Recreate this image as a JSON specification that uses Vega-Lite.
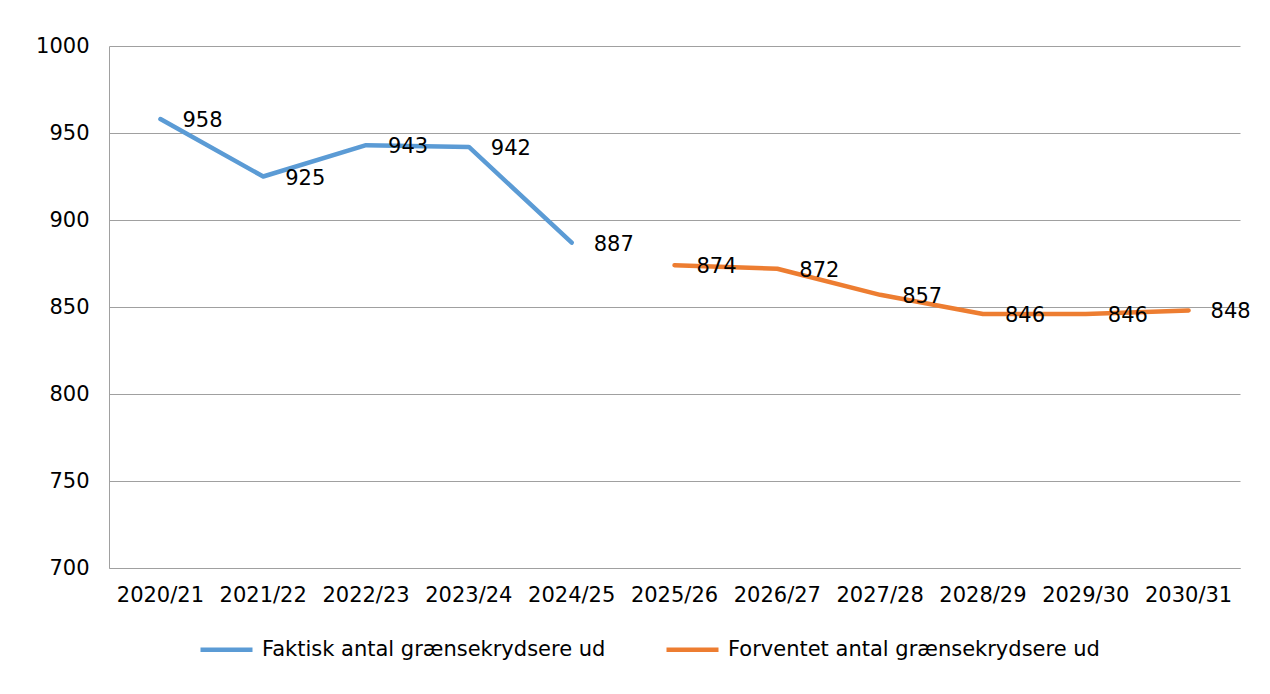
{
  "$schema": "https://vega.github.io/schema/vega-lite/v6.json",
  "autosize": {"type": "none"},
  "width": 1131,
  "height": 522,
  "padding": {"left": 109, "top": 46, "right": 30, "bottom": 126},
  "background": "white",
  "config": {
    "view": {"stroke": null},
    "font": "DejaVu Sans",
    "axis": {"labelFont": "DejaVu Sans", "labelFontSize": 21, "labelColor": "black", "titleFontSize": 21}
  },
  "data": {
    "values": [
      {"year": "2020/21", "value": 958, "series": "Faktisk antal grænsekrydsere ud"},
      {"year": "2021/22", "value": 925, "series": "Faktisk antal grænsekrydsere ud"},
      {"year": "2022/23", "value": 943, "series": "Faktisk antal grænsekrydsere ud"},
      {"year": "2023/24", "value": 942, "series": "Faktisk antal grænsekrydsere ud"},
      {"year": "2024/25", "value": 887, "series": "Faktisk antal grænsekrydsere ud"},
      {"year": "2025/26", "value": 874, "series": "Forventet antal grænsekrydsere ud"},
      {"year": "2026/27", "value": 872, "series": "Forventet antal grænsekrydsere ud"},
      {"year": "2027/28", "value": 857, "series": "Forventet antal grænsekrydsere ud"},
      {"year": "2028/29", "value": 846, "series": "Forventet antal grænsekrydsere ud"},
      {"year": "2029/30", "value": 846, "series": "Forventet antal grænsekrydsere ud"},
      {"year": "2030/31", "value": 848, "series": "Forventet antal grænsekrydsere ud"}
    ]
  },
  "encoding": {
    "x": {
      "field": "year", "type": "ordinal", "title": null,
      "scale": {"type": "band", "paddingInner": 0, "paddingOuter": 0},
      "axis": {"labelAngle": 0, "ticks": false, "labelPadding": 16, "domainColor": "#A0A0A0", "domainWidth": 1, "grid": false}
    },
    "y": {
      "field": "value", "type": "quantitative", "title": null,
      "scale": {"domain": [700, 1000], "nice": false, "zero": false},
      "axis": {"values": [700, 750, 800, 850, 900, 950, 1000], "format": "d", "ticks": false, "labelPadding": 20, "domainColor": "#A0A0A0", "domainWidth": 1, "gridColor": "#A0A0A0", "gridWidth": 1, "grid": true}
    }
  },
  "layer": [
    {
      "mark": {"type": "line", "strokeWidth": 4.5, "strokeCap": "round", "strokeJoin": "round"},
      "encoding": {
        "color": {
          "field": "series", "type": "nominal", "title": null,
          "scale": {"domain": ["Faktisk antal grænsekrydsere ud", "Forventet antal grænsekrydsere ud"], "range": ["#5B9BD5", "#ED7D31"]},
          "legend": {
            "orient": "none", "legendX": 89, "legendY": 575, "direction": "horizontal",
            "symbolType": "stroke", "symbolSize": 2704, "symbolStrokeWidth": 4.5,
            "labelFont": "DejaVu Sans", "labelFontSize": 21, "labelColor": "black",
            "labelOffset": 7, "columnPadding": 51, "labelLimit": 500
          }
        }
      }
    },
    {
      "mark": {"type": "text", "align": "left", "baseline": "middle", "dx": 22, "dy": 2, "fontSize": 21, "font": "DejaVu Sans", "color": "black"},
      "encoding": {"text": {"field": "value", "type": "quantitative"}}
    }
  ]
}
